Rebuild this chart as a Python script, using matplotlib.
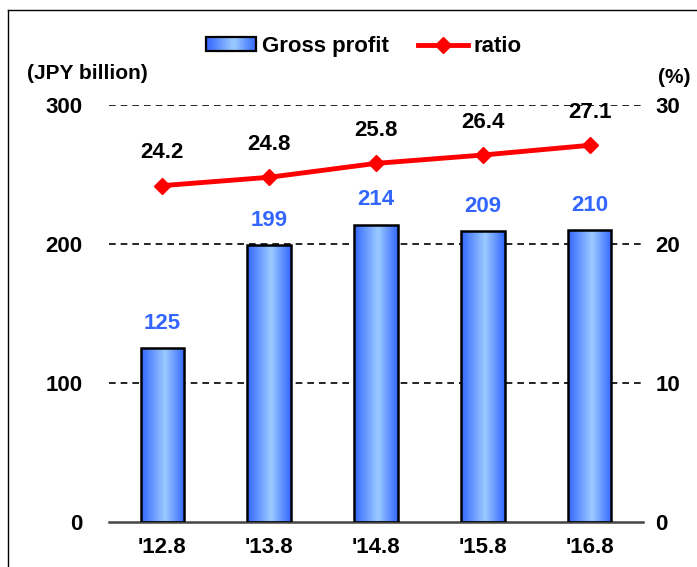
import matplotlib
matplotlib.use("Agg")
import matplotlib.pyplot as plt
import numpy as np
from matplotlib.colors import LinearSegmentedColormap
from matplotlib.legend_handler import HandlerBase
from matplotlib.lines import Line2D
from matplotlib.patches import Patch, Rectangle

periods = ["'12.8", "'13.8", "'14.8", "'15.8", "'16.8"]
gross_profit = [125, 199, 214, 209, 210]
ratio = [24.2, 24.8, 25.8, 26.4, 27.1]

BAR_LABEL = "#3366FF"
RED = "#FF0000"
FS = 16

plt.rcParams.update({"font.family": ["Liberation Sans", "DejaVu Sans"],
                     "font.weight": "bold", "font.size": FS})

# horizontal blue gradient used for bars and the legend key
grad = LinearSegmentedColormap.from_list(
    "bar", [(0.0, "#3366FF"), (0.55, "#9CCBFF"), (1.0, "#3366FF")])


class GradientKey(HandlerBase):
    def create_artists(self, legend, orig_handle, xdescent, ydescent,
                       width, height, fontsize, trans):
        n = 24
        arts = []
        for i in range(n):
            arts.append(Rectangle((-xdescent + width * i / n, -ydescent),
                                  width / n + 0.3, height,
                                  facecolor=grad((i + 0.5) / n),
                                  edgecolor="none", transform=trans))
        arts.append(Rectangle((-xdescent, -ydescent), width, height,
                              facecolor="none", edgecolor="black",
                              linewidth=1.6, transform=trans))
        return arts


fig = plt.figure(figsize=(6.97, 5.67), dpi=100)
ax = fig.add_axes([0.1564, 0.0794, 0.7661, 0.7354])
ax2 = ax.twinx()

x = np.arange(len(periods))
bars = ax.bar(x, gross_profit, width=0.41, color="none", edgecolor="black",
              linewidth=1.8, zorder=3)

row = np.linspace(0, 1, 256).reshape(1, -1)
for b in bars:
    x0, w, h = b.get_x(), b.get_width(), b.get_height()
    im = ax.imshow(row, cmap=grad, aspect="auto", extent=[x0, x0 + w, 0, h],
                   zorder=2, interpolation="bilinear")
    im.set_clip_path(b)

for xi, v in zip(x, gross_profit):
    ax.annotate(f"{v}", (xi, v), xytext=(0, 18), textcoords="offset points",
                ha="center", va="center", color=BAR_LABEL, fontsize=FS,
                fontweight="bold")

ax.set_xlim(-0.5, len(periods) - 0.5)
ax.set_ylim(0, 300)
ax.set_yticks([0, 100, 200, 300])
ax.set_xticks(x)
ax.set_xticklabels(periods)
ax.tick_params(length=0, pad=11, labelsize=FS)
ax.tick_params(axis="y", pad=19)
for yv in (100, 200, 300):
    ax.axhline(yv, color="black", linestyle=(0, (4, 3)), linewidth=1.2, zorder=1)
for s in ("left", "right", "top"):
    ax.spines[s].set_visible(False)
ax.spines["bottom"].set_color("#444444")
ax.spines["bottom"].set_linewidth(1.8)

ax2.plot(x, ratio, color=RED, linewidth=3.5, marker="D", markersize=8, zorder=4)
for xi, v in zip(x, ratio):
    ax2.annotate(f"{v:.1f}", (xi, v), xytext=(0, 23.5), textcoords="offset points",
                 ha="center", va="center", color="black", fontsize=FS,
                 fontweight="bold")
ax2.set_ylim(0, 30)
ax2.set_yticks([0, 10, 20, 30])
ax2.tick_params(length=0, pad=9, labelsize=FS)
for s in ax2.spines.values():
    s.set_visible(False)

fig.text(0.039, 0.871, "(JPY billion)", fontsize=15, fontweight="bold",
         va="center", ha="left")
fig.text(0.991, 0.864, "(%)", fontsize=15, fontweight="bold", va="center",
         ha="right")

bar_key = Patch()
line_key = Line2D([], [], color=RED, linewidth=3.5, marker="D", markersize=8)
fig.legend([bar_key, line_key], ["Gross profit", "ratio"], loc="center",
           bbox_to_anchor=(0.522, 0.918), ncol=2, frameon=False, fontsize=FS,
           handlelength=2.25, handleheight=0.55, handletextpad=0.25,
           columnspacing=1.3, handler_map={bar_key: GradientKey()})

# outer frame (left and top edges visible)
fig.add_artist(Line2D([8 / 697, 8 / 697], [0, 1 - 10 / 567],
                      transform=fig.transFigure, color="black", linewidth=1))
fig.add_artist(Line2D([8 / 697, 1], [1 - 10 / 567, 1 - 10 / 567],
                      transform=fig.transFigure, color="black", linewidth=1))

fig.savefig("out.png", dpi=100)
